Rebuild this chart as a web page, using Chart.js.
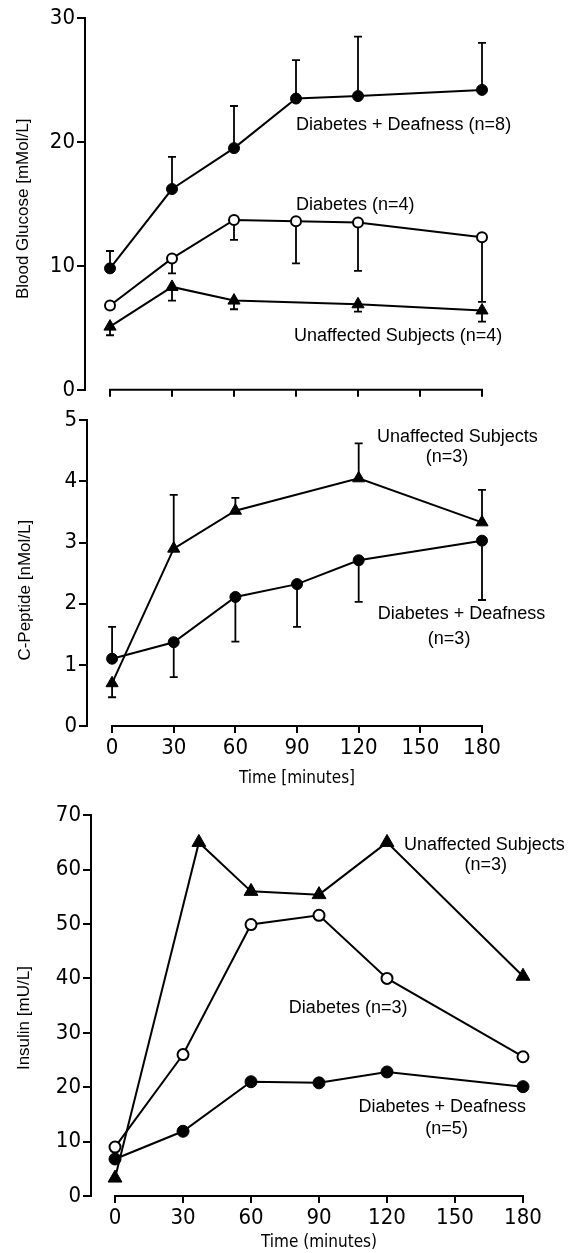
<!DOCTYPE html>
<html>
<head>
<meta charset="utf-8">
<script src="https://cdn.jsdelivr.net/npm/chart.js@4"></script>
<style>
  body { margin: 0; background: #fff; width: 572px; height: 1253px; position: relative; overflow: hidden; }
  .panel { position: absolute; left: 0; width: 572px; }
</style>
</head>
<body>
<div class="panel" style="top:0;height:405px"><canvas id="glucose"></canvas></div>
<div class="panel" style="top:405px;height:395px"><canvas id="cpeptide"></canvas></div>
<div class="panel" style="top:800px;height:453px"><canvas id="insulin"></canvas></div>
<script>
const times = [0, 30, 60, 90, 120, 180];
const xTicks = [0, 30, 60, 90, 120, 150, 180];

// blood glucose (mMol/L), bar = end of the error bar
const glucoseDD = [9.8, 16.2, 19.5, 23.5, 23.7, 24.2];
const glucoseDDBar = [11.2, 18.8, 22.9, 26.6, 28.5, 28.0];
const glucoseD = [6.8, 10.6, 13.7, 13.6, 13.5, 12.3];
const glucoseDBar = [null, 9.4, 12.1, 10.2, 9.6, 7.1];
const glucoseU = [5.1, 8.3, 7.2, null, 6.9, 6.4];
const glucoseUBar = [4.4, 7.2, 6.5, null, 6.3, 5.5];

// c-peptide (nMol/L)
const cpepDD = [1.1, 1.37, 2.11, 2.32, 2.71, 3.03];
const cpepDDBar = [1.62, 0.8, 1.38, 1.62, 2.03, 2.06];
const cpepU = [0.7, 2.9, 3.52, null, 4.05, 3.33];
const cpepUBar = [0.47, 3.78, 3.73, null, 4.62, 3.86];

// insulin (mU/L)
const insulinTimesU = [0, 37, 60, 90, 120, 180];
const insulinU = [3.3, 65, 56, 55.4, 65, 40.4];
const insulinD = [9.0, 26.0, 49.9, 51.6, 40.0, 25.6];
const insulinDD = [6.8, 11.9, 21.0, 20.8, 22.8, 20.1];

const tickFont = { family: "'DejaVu Sans Condensed', 'Liberation Sans Narrow', sans-serif", size: 22 };
const labelFont = "18px 'Liberation Sans', Arial, sans-serif";
const titleFont = "17px 'Liberation Sans', Arial, sans-serif";
const timeFont = "17px 'DejaVu Sans Condensed', 'Liberation Sans Narrow', sans-serif";

const filled = { pointStyle: 'circle', pointRadius: 5.5, pointBackgroundColor: '#000', pointBorderColor: '#000', pointBorderWidth: 1 };
const open = { pointStyle: 'circle', pointRadius: 5, pointBackgroundColor: '#fff', pointBorderColor: '#000', pointBorderWidth: 2 };
const tri = { pointStyle: 'triangle', pointRadius: 7, pointBackgroundColor: '#000', pointBorderColor: '#000', pointBorderWidth: 1 };

function series(xs, ys, style, bars) {
    return Object.assign({
        data: xs.map((t, i) => ({ x: t, y: ys[i] })),
        bars: bars,
        borderColor: '#000',
        borderWidth: 2,
        spanGaps: true,
        clip: false
    }, style);
}

function makePanel(id, cfg) {
    const extras = {
        id: 'extras',
        beforeDatasetsDraw(chart) {
            const ctx = chart.ctx, xs = chart.scales.x, ys = chart.scales.y;
            ctx.save();
            ctx.strokeStyle = '#000';
            ctx.lineWidth = 2;
            // x axis line only over the time range
            ctx.beginPath();
            ctx.moveTo(xs.getPixelForValue(xTicks[0]) - 1, ys.bottom);
            ctx.lineTo(xs.getPixelForValue(xTicks[xTicks.length - 1]) + 1, ys.bottom);
            ctx.stroke();
            // error bars
            ctx.lineWidth = 1.8;
            chart.data.datasets.forEach(ds => {
                if (!ds.bars) return;
                ds.data.forEach((p, j) => {
                    const end = ds.bars[j];
                    if (end == null || p.y == null) return;
                    const x = xs.getPixelForValue(p.x);
                    const y0 = ys.getPixelForValue(p.y), y1 = ys.getPixelForValue(end);
                    ctx.beginPath();
                    ctx.moveTo(x, y0); ctx.lineTo(x, y1);
                    ctx.moveTo(x - 4, y1); ctx.lineTo(x + 4, y1);
                    ctx.stroke();
                });
            });
            ctx.restore();
        },
        afterDraw(chart) {
            const ctx = chart.ctx, xs = chart.scales.x, ys = chart.scales.y;
            ctx.save();
            ctx.fillStyle = '#000';
            ctx.textBaseline = 'middle';
            cfg.notes.forEach(n => {
                const px = xs.getPixelForValue(n.x), py = ys.getPixelForValue(n.y);
                ctx.font = n.font || labelFont;
                if (n.rotate) {
                    ctx.save();
                    ctx.translate(px, py);
                    ctx.rotate(-Math.PI / 2);
                    ctx.textAlign = 'center';
                    ctx.fillText(n.text, 0, 0);
                    ctx.restore();
                } else {
                    ctx.textAlign = n.align || 'left';
                    ctx.fillText(n.text, px, py);
                }
            });
            ctx.restore();
        }
    };

    return new Chart(document.getElementById(id), {
        type: 'line',
        data: { datasets: cfg.datasets },
        plugins: [extras],
        options: {
            responsive: true,
            maintainAspectRatio: false,
            animation: false,
            layout: { padding: { left: 0, top: cfg.top, right: cfg.right, bottom: 0 } },
            plugins: { legend: { display: false }, tooltip: { enabled: false } },
            scales: {
                x: {
                    type: 'linear',
                    min: cfg.xMin,
                    max: 180,
                    afterBuildTicks: s => { s.ticks = xTicks.map(v => ({ value: v })); },
                    afterFit: s => { s.height = cfg.xHeight; },
                    border: { display: false },
                    grid: { drawOnChartArea: false, tickLength: 7, color: '#000', lineWidth: 2 },
                    ticks: { display: cfg.xLabels, color: '#000', font: tickFont, padding: 2, maxRotation: 0, autoSkip: false }
                },
                y: {
                    min: 0,
                    max: cfg.yMax,
                    afterFit: s => { s.width = cfg.yWidth; },
                    border: { display: true, color: '#000', width: 2 },
                    grid: { drawOnChartArea: false, tickLength: 8, color: '#000', lineWidth: 2 },
                    ticks: { stepSize: cfg.yStep, color: '#000', font: tickFont, padding: 2 }
                }
            }
        }
    });
}

makePanel('glucose', {
    top: 18, right: 90, yWidth: 85, xHeight: 14, xMin: -12.1, yMax: 30, yStep: 10, xLabels: false,
    datasets: [
        series(times, glucoseDD, filled, glucoseDDBar),
        series(times, glucoseD, open, glucoseDBar),
        series(times, glucoseU, tri, glucoseUBar)
    ],
    notes: [
        { text: 'Diabetes + Deafness (n=8)', x: 90, y: 21.4 },
        { text: 'Diabetes (n=4)', x: 90, y: 14.9 },
        { text: 'Unaffected Subjects (n=4)', x: 89, y: 4.35 },
        { text: 'Blood Glucose [mMol/L]', x: -42, y: 14.6, rotate: true, font: titleFont }
    ]
});

makePanel('cpeptide', {
    top: 13, right: 90, yWidth: 87, xHeight: 74, xMin: -12.2, yMax: 5, yStep: 1, xLabels: true,
    datasets: [
        series(times, cpepDD, filled, cpepDDBar),
        series(times, cpepU, tri, cpepUBar)
    ],
    notes: [
        { text: 'Unaffected Subjects', x: 168, y: 4.72, align: 'center' },
        { text: '(n=3)', x: 163, y: 4.40, align: 'center' },
        { text: 'Diabetes + Deafness', x: 170, y: 1.83, align: 'center' },
        { text: '(n=3)', x: 164, y: 1.43, align: 'center' },
        { text: 'C-Peptide [nMol/L]', x: -42, y: 2.22, rotate: true, font: titleFont },
        { text: 'Time [minutes]', x: 90, y: -0.86, align: 'center', font: timeFont }
    ]
});

makePanel('insulin', {
    top: 13, right: 49, yWidth: 91, xHeight: 57, xMin: -10.6, yMax: 70, yStep: 10, xLabels: true,
    datasets: [
        series(times, insulinDD, Object.assign({}, filled, { pointRadius: 6 })),
        series(times, insulinD, Object.assign({}, open, { pointRadius: 5.5 })),
        series(insulinTimesU, insulinU, Object.assign({}, tri, { pointRadius: 8 }))
    ],
    notes: [
        { text: 'Unaffected Subjects', x: 127.5, y: 64.5 },
        { text: '(n=3)', x: 163.6, y: 60.9, align: 'center' },
        { text: 'Diabetes (n=3)', x: 76.7, y: 34.5 },
        { text: 'Diabetes + Deafness', x: 144.4, y: 16.3, align: 'center' },
        { text: '(n=5)', x: 146.3, y: 12.4, align: 'center' },
        { text: 'Insulin [mU/L]', x: -40, y: 32.7, rotate: true, font: titleFont },
        { text: 'Time (minutes)', x: 90, y: -8.6, align: 'center', font: timeFont }
    ]
});
</script>
</body>
</html>
